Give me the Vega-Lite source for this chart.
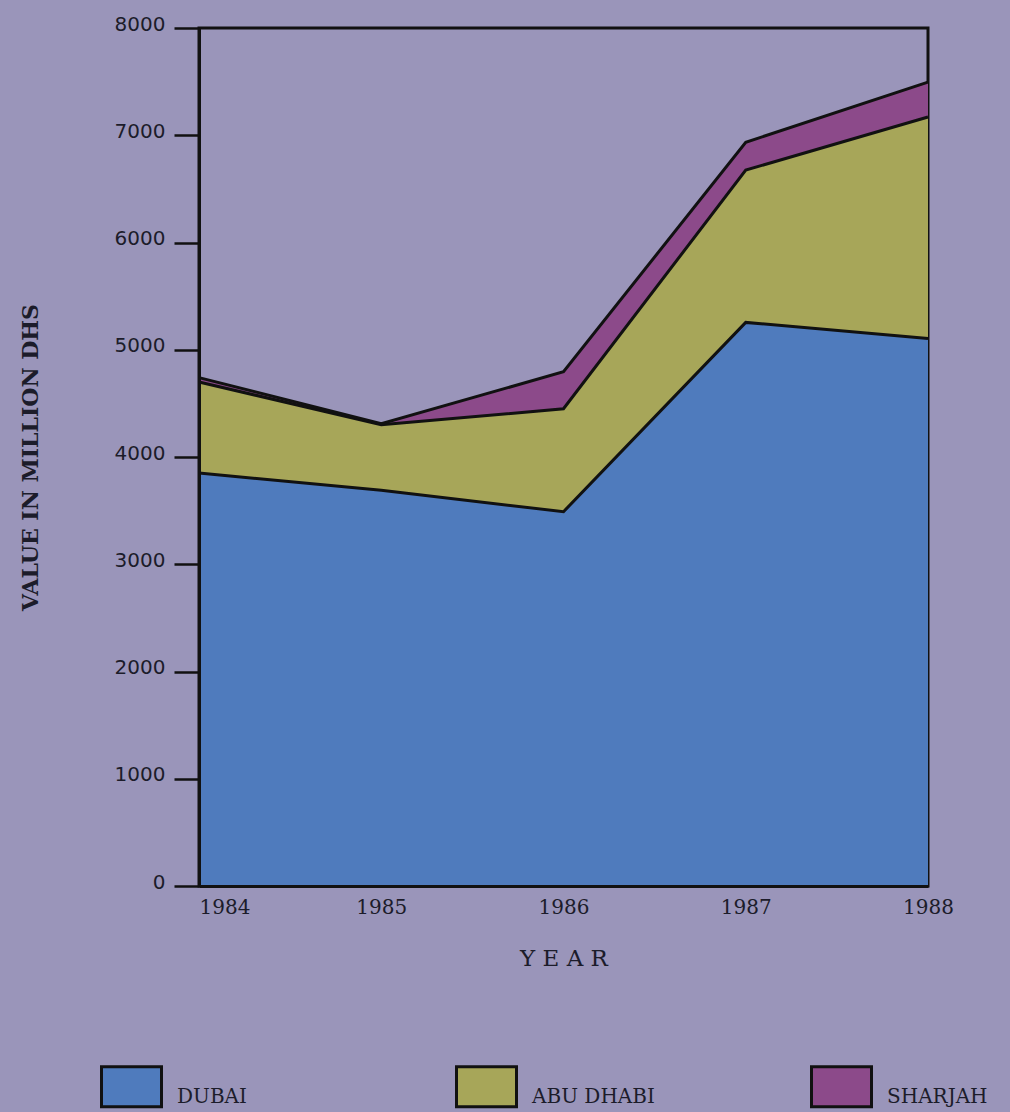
{
  "$schema": "https://vega.github.io/schema/vega-lite/v6.json",
  "width": 729,
  "height": 858,
  "autosize": {"type": "none"},
  "padding": {"left": 199, "top": 28, "right": 82, "bottom": 226},
  "background": "#9a95ba",
  "config": {
    "view": {"stroke": "#111111", "strokeWidth": 3, "fill": "#9a95ba"}
  },
  "data": {
    "values": [
      {"Year": 1984, "Emirate": "DUBAI", "Value": 3850},
      {"Year": 1985, "Emirate": "DUBAI", "Value": 3690},
      {"Year": 1986, "Emirate": "DUBAI", "Value": 3490},
      {"Year": 1987, "Emirate": "DUBAI", "Value": 5255},
      {"Year": 1988, "Emirate": "DUBAI", "Value": 5105},
      {"Year": 1984, "Emirate": "ABU DHABI", "Value": 850},
      {"Year": 1985, "Emirate": "ABU DHABI", "Value": 610},
      {"Year": 1986, "Emirate": "ABU DHABI", "Value": 960},
      {"Year": 1987, "Emirate": "ABU DHABI", "Value": 1420},
      {"Year": 1988, "Emirate": "ABU DHABI", "Value": 2065},
      {"Year": 1984, "Emirate": "SHARJAH", "Value": 40},
      {"Year": 1985, "Emirate": "SHARJAH", "Value": 10},
      {"Year": 1986, "Emirate": "SHARJAH", "Value": 345},
      {"Year": 1987, "Emirate": "SHARJAH", "Value": 260},
      {"Year": 1988, "Emirate": "SHARJAH", "Value": 325}
    ]
  },
  "transform": [
    {"calculate": "indexof(['DUBAI','ABU DHABI','SHARJAH'], datum.Emirate)", "as": "rank"},
    {"stack": "Value", "groupby": ["Year"], "sort": [{"field": "rank", "order": "ascending"}], "as": ["v0", "v1"]}
  ],
  "encoding": {
    "x": {
      "field": "Year",
      "type": "quantitative",
      "scale": {"domain": [1984, 1988], "nice": false, "zero": false},
      "axis": {
        "values": [1984, 1985, 1986, 1987, 1988],
        "format": "d",
        "zindex": 1,
        "title": "Y E A R",
        "titleFont": "DejaVu Serif",
        "titleFontSize": 23,
        "titleFontWeight": "normal",
        "titleColor": "#1c1c2a",
        "titlePadding": 30,
        "labelFont": "DejaVu Serif",
        "labelFontSize": 20,
        "labelColor": "#1c1c2a",
        "labelAlign": {"expr": "datum.value == 1984 ? 'left' : 'center'"},
        "labelPadding": 11,
        "ticks": false,
        "tickSize": 0,
        "grid": false,
        "domainColor": "#111111",
        "domainWidth": 3
      }
    },
    "y": {
      "field": "v1",
      "type": "quantitative",
      "scale": {"domain": [0, 8000], "nice": false},
      "axis": {
        "values": [0, 1000, 2000, 3000, 4000, 5000, 6000, 7000, 8000],
        "format": "d",
        "zindex": 1,
        "title": "VALUE IN MILLION DHS",
        "titleFont": "DejaVu Serif",
        "titleFontSize": 22,
        "titleFontWeight": "bold",
        "titleColor": "#1c1c2a",
        "titlePadding": 72,
        "labelFont": "DejaVu Sans",
        "labelFontSize": 20,
        "labelColor": "#1c1c2a",
        "labelBaseline": "alphabetic",
        "labelOffset": 2,
        "labelPadding": 9,
        "tickSize": 25,
        "tickColor": "#111111",
        "tickWidth": 2.5,
        "grid": false,
        "domainColor": "#111111",
        "domainWidth": 3
      }
    }
  },
  "layer": [
    {
      "mark": {"type": "area", "opacity": 1},
      "encoding": {
        "y2": {"field": "v0"},
        "color": {
          "field": "Emirate",
          "type": "nominal",
          "sort": ["DUBAI", "ABU DHABI", "SHARJAH"],
          "scale": {
            "domain": ["DUBAI", "ABU DHABI", "SHARJAH"],
            "range": ["#4f7bbd", "#a7a659", "#8c4a8a"]
          },
          "legend": {
            "title": null,
            "orient": "none",
            "direction": "horizontal",
            "gridAlign": "all",
            "legendX": -89,
            "legendY": 1037,
            "symbolType": "M-1.5,-1H1.5V1H-1.5Z",
            "symbolSize": 1600,
            "symbolOpacity": 1,
            "labelFont": "DejaVu Serif",
            "labelFontSize": 20,
            "labelColor": "#1c1c2a",
            "labelOffset": 24,
            "labelBaseline": "top",
            "columnPadding": 150,
            "encode": {
              "symbols": {
                "update": {
                  "stroke": {"value": "#111111"},
                  "strokeWidth": {"value": 3}
                }
              }
            }
          }
        }
      }
    },
    {
      "mark": {"type": "line", "color": "#111111", "strokeWidth": 3},
      "encoding": {
        "detail": {"field": "Emirate", "type": "nominal"}
      }
    }
  ]
}
